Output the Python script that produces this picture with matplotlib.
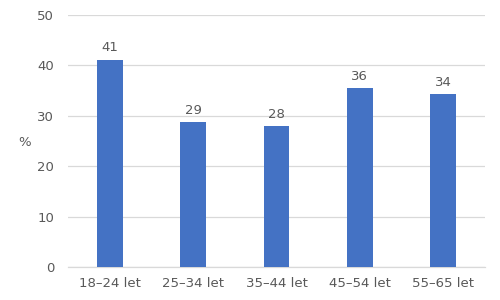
import matplotlib
matplotlib.use("Agg")
import matplotlib.pyplot as plt
import numpy as np

categories = ["18–24 let", "25–34 let", "35–44 let", "45–54 let", "55–65 let"]
values = [41.1, 28.7, 27.9, 35.5, 34.3]
labels = ["41", "29", "28", "36", "34"]

TEXT = "#595959"
GRID = "#D9D9D9"
BAR = "#4472C4"

plt.rcParams["font.family"] = ["DejaVu Sans"]

fig = plt.figure(figsize=(5, 3), dpi=100)
ax = fig.add_axes([68 / 500, 1 - 267 / 300, (485 - 68) / 500, (267 - 15) / 300])

x = np.arange(len(categories))
bars = ax.bar(x, values, width=0.31, color=BAR, zorder=3)
for b, lab in zip(bars, labels):
    ax.annotate(lab, (b.get_x() + b.get_width() / 2, b.get_height()),
                xytext=(0, 4), textcoords="offset points",
                ha="center", va="bottom", fontsize=9.5, color=TEXT)

ax.set_xlim(-0.5, len(categories) - 0.5)
ax.set_ylim(0, 50)
ax.set_yticks(range(0, 51, 10))
ax.set_xticks(x)
ax.set_xticklabels(categories)
ax.tick_params(axis="both", length=0, labelsize=9.5, labelcolor=TEXT)
ax.tick_params(axis="y", pad=10)
ax.tick_params(axis="x", pad=7)
ax.grid(axis="y", color=GRID, linewidth=0.9, zorder=0)
for s in ["top", "right", "left"]:
    ax.spines[s].set_visible(False)
ax.spines["bottom"].set_color(GRID)
ax.spines["bottom"].set_linewidth(0.9)

fig.text(25 / 500, 1 - 142 / 300, "%", fontsize=9.5, color=TEXT,
         ha="center", va="center")

fig.savefig("out.png", dpi=100, facecolor="white")
